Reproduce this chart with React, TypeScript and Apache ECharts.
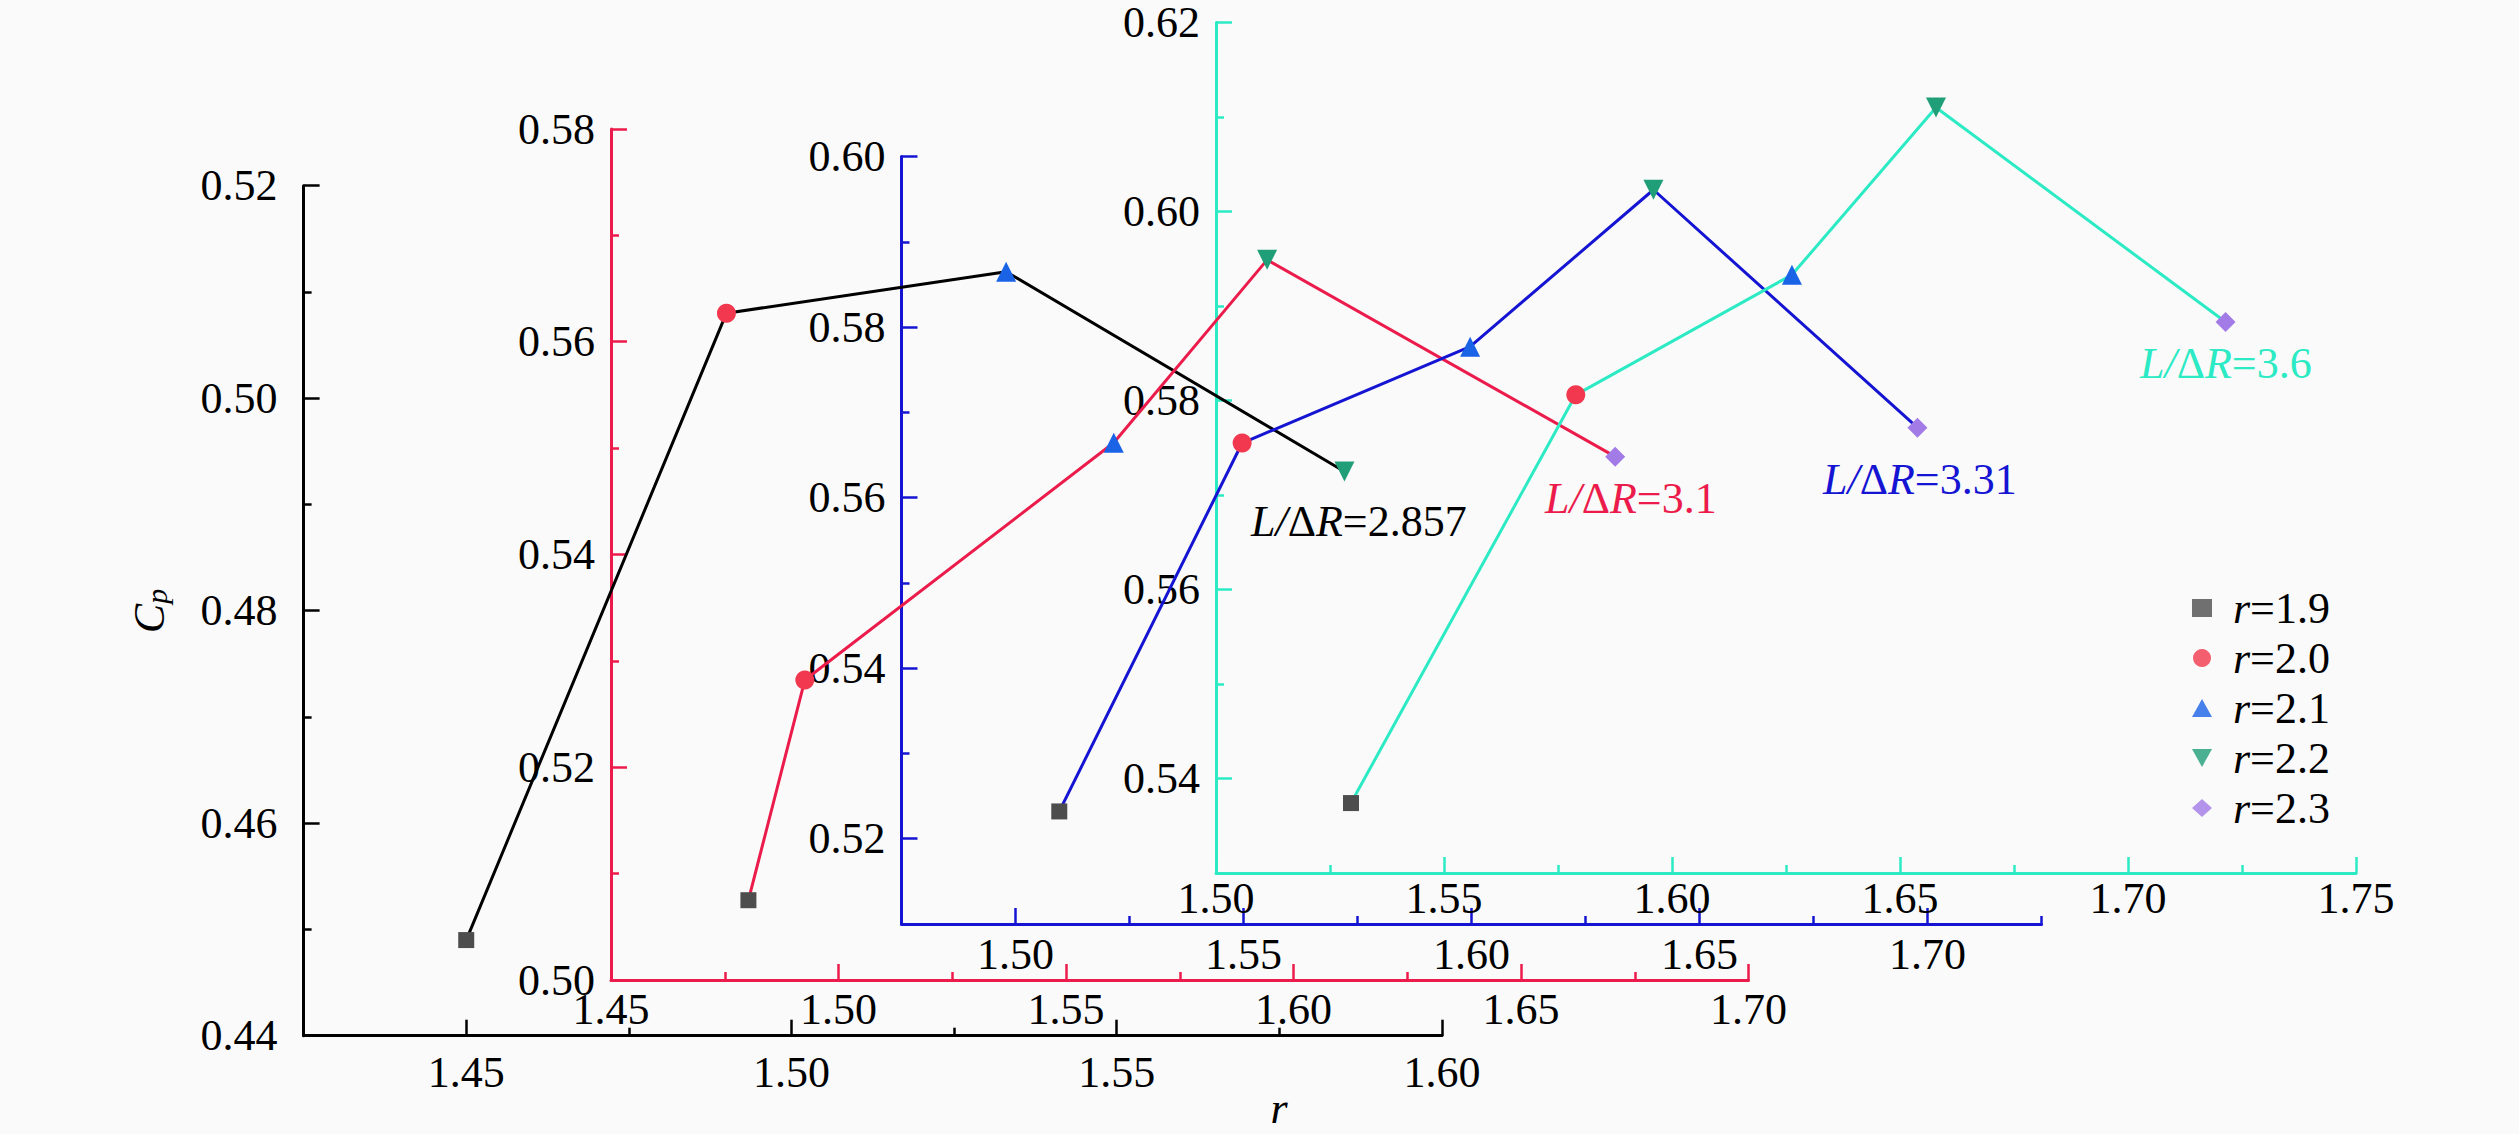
import React, { useEffect, useRef } from "react";
import * as echarts from "echarts";

// ---------- data ----------
const rNames = ["r=1.9", "r=2.0", "r=2.1", "r=2.2", "r=2.3"];
const ratioNames = ["2.857", "3.1", "3.31", "3.6"];

const xBlack = [1.45, 1.49, 1.533, 1.585];
const yBlack = [0.449, 0.508, 0.5119, 0.4931];
const xRed = [1.4802, 1.4926, 1.5605, 1.5942, 1.6707];
const yRed = [0.5075, 0.5282, 0.5505, 0.5677, 0.5492];
const xBlue = [1.5096, 1.5497, 1.5997, 1.6399, 1.6978];
const yBlue = [0.5232, 0.5664, 0.5777, 0.5961, 0.5682];
const xCyan = [1.5296, 1.5789, 1.6263, 1.6579, 1.7214];
const yCyan = [0.5374, 0.5806, 0.5933, 0.611, 0.5883];

const blackXTicks = [1.45, 1.5, 1.55, 1.6];
const blackXMinor = [1.475, 1.525, 1.575];
const blackYTicks = [0.44, 0.46, 0.48, 0.5, 0.52];
const blackYMinor = [0.45, 0.47, 0.49, 0.51];
const redXTicks = [1.45, 1.5, 1.55, 1.6, 1.65, 1.7];
const redXMinor = [1.475, 1.525, 1.575, 1.625, 1.675];
const redYTicks = [0.5, 0.52, 0.54, 0.56, 0.58];
const redYMinor = [0.51, 0.53, 0.55, 0.57];
const blueXTicks = [1.5, 1.55, 1.6, 1.65, 1.7];
const blueXMinor = [1.525, 1.575, 1.625, 1.675, 1.725];
const blueYTicks = [0.52, 0.54, 0.56, 0.58, 0.6];
const blueYMinor = [0.53, 0.55, 0.57, 0.59];
const cyanXTicks = [1.5, 1.55, 1.6, 1.65, 1.7, 1.75];
const cyanXMinor = [1.525, 1.575, 1.625, 1.675, 1.725];
const cyanYTicks = [0.54, 0.56, 0.58, 0.6, 0.62];
const cyanYMinor = [0.55, 0.57, 0.59, 0.61];

// ---------- styles ----------
const FONT = "Liberation Serif, DejaVu Serif, serif";
const FS = 44;
const markerSymbols = ["rect", "circle", "triangle", "path://M0,0L10,0L5,9Z", "diamond"];
const markerColors = ["#4d4d4d", "#f2384e", "#1a62e6", "#1f9e78", "#a27be6"];
const markerSizes = [16, 19, 20, 20, 20];

const systems = [
  {
    color: "#000000", xs: xBlack, ys: yBlack, xr: [1.425, 1.6], yr: [0.44, 0.52],
    xt: blackXTicks, xm: blackXMinor, yt: blackYTicks, ym: blackYMinor,
    grid: { left: 303.6, top: 185.7, width: 1138.4, height: 850 }, xMargin: 15, yMargin: 26,
    label: { x: 1251, y: 521 },
  },
  {
    color: "#eb1c4b", xs: xRed, ys: yRed, xr: [1.45, 1.7], yr: [0.5, 0.58],
    xt: redXTicks, xm: redXMinor, yt: redYTicks, ym: redYMinor,
    grid: { left: 611, top: 129, width: 1137.5, height: 851 }, xMargin: 7, yMargin: 16,
    label: { x: 1545, y: 498 },
  },
  {
    color: "#1414d2", xs: xBlue, ys: yBlue, xr: [1.475, 1.725], yr: [0.51, 0.6],
    xt: blueXTicks, xm: blueXMinor, yt: blueYTicks, ym: blueYMinor,
    grid: { left: 901.5, top: 156.5, width: 1140, height: 767.5 }, xMargin: 8, yMargin: 16,
    label: { x: 1823, y: 479 },
  },
  {
    color: "#2beac4", xs: xCyan, ys: yCyan, xr: [1.5, 1.75], yr: [0.53, 0.62],
    xt: cyanXTicks, xm: cyanXMinor, yt: cyanYTicks, ym: cyanYMinor,
    grid: { left: 1216, top: 22.5, width: 1140, height: 850.5 }, xMargin: 3, yMargin: 16,
    label: { x: 2140, y: 363 },
  },
];

function mainAxis(gi: number, range: number[], ticks: number[], color: string, margin: number, pos: string) {
  return {
    type: "value", gridIndex: gi, min: range[0], max: range[1], position: pos,
    axisLine: { show: true, onZero: false, lineStyle: { color, width: 3 } },
    axisTick: { show: true, inside: true, length: 16, customValues: ticks, lineStyle: { color, width: 2.5 } },
    axisLabel: {
      show: true, customValues: ticks, margin, color: "#000", fontSize: FS, fontFamily: FONT,
      formatter: (v: number) => v.toFixed(2),
    },
    splitLine: { show: false },
  };
}
function minorAxis(gi: number, range: number[], ticks: number[], color: string, pos: string) {
  return {
    type: "value", gridIndex: gi, min: range[0], max: range[1], position: pos,
    axisLine: { show: false, onZero: false },
    axisTick: { show: true, inside: true, length: 8, customValues: ticks, lineStyle: { color, width: 2.5 } },
    axisLabel: { show: false },
    splitLine: { show: false },
  };
}

function richLabel(text: string, color: string) {
  return {
    text,
    fill: color,
    fontSize: FS,
    fontFamily: FONT,
    rich: {
      i: { fontStyle: "italic", fontSize: FS, fontFamily: FONT, fill: color },
      n: { fontSize: FS, fontFamily: FONT, fill: color },
    },
  };
}

export default function App() {
  const ref = useRef<HTMLDivElement>(null);
  useEffect(() => {
    if (!ref.current) return;
    const chart = echarts.init(ref.current, undefined, { renderer: "svg" });
    const grid: any[] = [];
    const xAxis: any[] = [];
    const yAxis: any[] = [];
    const series: any[] = [];
    const graphic: any[] = [];
    systems.forEach((s, gi) => {
      grid.push({ ...s.grid });
      xAxis.push(mainAxis(gi, s.xr, s.xt, s.color, s.xMargin, "bottom"));
      xAxis.push(minorAxis(gi, s.xr, s.xm, s.color, "bottom"));
      yAxis.push(mainAxis(gi, s.yr, s.yt, s.color, s.yMargin, "left"));
      yAxis.push(minorAxis(gi, s.yr, s.ym, s.color, "left"));
      series.push({
        type: "line",
        name: "L/ΔR=" + ratioNames[gi],
        xAxisIndex: gi * 2,
        yAxisIndex: gi * 2,
        silent: true,
        showAllSymbol: true,
        lineStyle: { color: s.color, width: 3 },
        data: s.xs.map((x, i) => ({
          value: [x, s.ys[i]],
          symbol: markerSymbols[i],
          symbolSize: markerSizes[i],
          itemStyle: { color: markerColors[i], opacity: 1 },
        })),
        z: 3,
      });
      graphic.push({
        type: "text",
        x: s.label.x,
        y: s.label.y,
        silent: true,
        style: {
          ...richLabel("{i|L/}{n|Δ}{i|R}{n|=" + ratioNames[gi] + "}", s.color),
          verticalAlign: "middle",
          align: "left",
        },
      });
    });
    rNames.forEach((nm, i) => {
      series.push({
        type: "scatter",
        name: nm,
        xAxisIndex: 0,
        yAxisIndex: 0,
        symbol: markerSymbols[i],
        itemStyle: { color: markerColors[i] },
        data: [],
      });
    });
    graphic.push({
      type: "text",
      x: 149,
      y: 611,
      rotation: Math.PI / 2,
      silent: true,
      style: {
        text: "{c|C}{s|p}",
        fill: "#000",
        align: "center",
        verticalAlign: "middle",
        rich: {
          c: { fontStyle: "italic", fontSize: FS, fontFamily: FONT, fill: "#000", lineHeight: 44 },
          s: { fontStyle: "italic", fontSize: 30, fontFamily: FONT, fill: "#000", padding: [14, 0, 0, 0] },
        },
      },
    });
    graphic.push({
      type: "text",
      x: 1279,
      y: 1108,
      silent: true,
      style: {
        text: "r",
        fill: "#000",
        fontSize: FS,
        fontStyle: "italic",
        fontFamily: FONT,
        align: "center",
        verticalAlign: "middle",
      },
    });

    chart.setOption({
      animation: false,
      backgroundColor: "#fafafa",
      textStyle: { fontFamily: FONT },
      grid,
      xAxis,
      yAxis,
      series,
      graphic,
      legend: {
        data: rNames,
        orient: "vertical",
        left: 2192,
        top: 583,
        padding: 0,
        itemGap: 0,
        itemWidth: 20,
        itemHeight: 18,
        selectedMode: false,
        formatter: (name: string) => "{i|r}{n|" + name.slice(1) + "}",
        textStyle: {
          color: "#000",
          fontSize: FS,
          fontFamily: FONT,
          lineHeight: 50,
          rich: {
            i: { fontStyle: "italic", fontSize: FS, fontFamily: FONT, color: "#000", padding: [0, 0, 0, 16], lineHeight: 50 },
            n: { fontSize: FS, fontFamily: FONT, color: "#000", lineHeight: 50 },
          },
        },
      },
    });
    return () => chart.dispose();
  }, []);
  return (
    <div
      ref={ref}
      style={{ position: "fixed", left: 0, top: 0, width: 2519, height: 1134 }}
    />
  );
}
